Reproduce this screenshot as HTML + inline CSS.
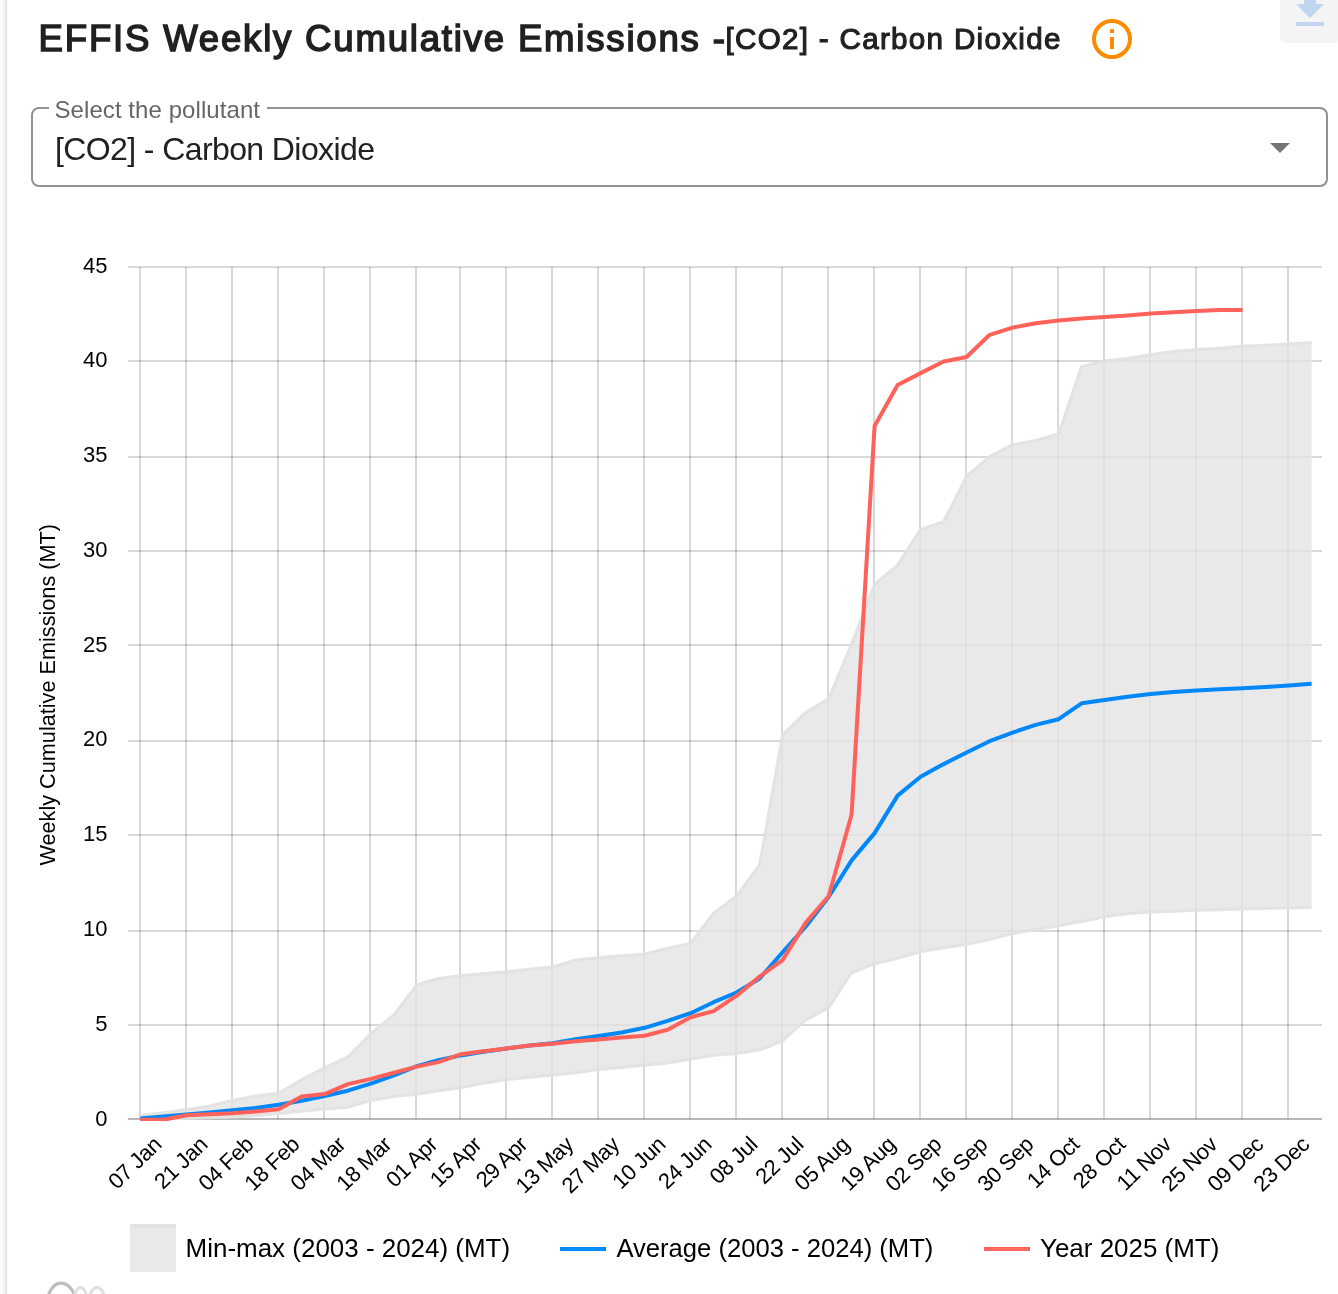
<!DOCTYPE html>
<html lang="en"><head><meta charset="utf-8"><title>EFFIS Weekly Cumulative Emissions</title>
<style>
html,body{margin:0;padding:0;background:#fff;}
body{width:1338px;height:1294px;position:relative;overflow:hidden;font-family:"Liberation Sans",sans-serif;color:#212121;}
.edge{position:absolute;left:0;top:0;width:7px;height:1294px;background:linear-gradient(to right,#fcfcfc 0.5px,#fbfbfb 1.5px,#f9f9f9 2.5px,#f6f6f6 3.5px,#f1f1f1 4.5px,#eaeaea 5.5px,#e2e2e2 6.5px);}
.title{position:absolute;left:38.6px;top:13.5px;margin:0;white-space:nowrap;font-size:36.6px;font-weight:400;line-height:50px;color:#212121;letter-spacing:1.79px;-webkit-text-stroke:1.5px #212121;}
.title .sub{font-size:29.6px;font-weight:400;letter-spacing:1.3px;margin-left:-1.1px;position:relative;top:-1.5px;-webkit-text-stroke:1.1px #212121;}
.info{position:absolute;left:1088px;top:15px;width:48px;height:48px;}
.dl{position:absolute;left:1280px;top:-20px;width:61px;height:63px;background:#f4f4f4;border-radius:6px;}
.dl svg{position:absolute;left:6px;top:6px;width:48px;height:48px;}
.field{position:absolute;left:31px;top:107px;width:1293px;height:76px;border:2px solid #919191;border-radius:8px;}
.field .lab{position:absolute;left:15.5px;top:-13.5px;padding:0 7px 0 6px;background:#fff;font-size:24px;line-height:28px;color:#666;white-space:nowrap;letter-spacing:0.07px;}
.field .val{position:absolute;left:22px;top:19.5px;font-size:32px;line-height:40px;color:#212121;white-space:nowrap;letter-spacing:-0.6px;}
.field svg{position:absolute;left:1223px;top:14px;width:48px;height:48px;}
.chart{position:absolute;left:0;top:0;font-family:"Liberation Sans",sans-serif;}
</style></head><body>
<div class="edge"></div>
<h2 class="title">EFFIS Weekly Cumulative Emissions -<span class="sub">[CO2] - Carbon Dioxide</span></h2>
<svg class="info" viewBox="0 0 24 24"><circle cx="12" cy="12" r="9" fill="none" stroke="#fb8c00" stroke-width="2"/><rect x="11" y="7" width="2" height="2" fill="#fb8c00"/><rect x="11" y="11" width="2" height="6" fill="#fb8c00"/></svg>
<div class="dl"><svg viewBox="0 0 24 24"><path d="M19 9h-4V3H9v6H5l7 7 7-7zM5 18v2h14v-2H5z" fill="#c1d5f1"/></svg></div>
<div class="field"><span class="lab">Select the pollutant</span><span class="val">[CO2] - Carbon Dioxide</span><svg viewBox="0 0 24 24"><path d="M7 10l5 5 5-5z" fill="#757575"/></svg></div>
<svg class="chart" width="1338" height="1294" viewBox="0 0 1338 1294">
<defs><clipPath id="ca"><rect x="140" y="265" width="1184" height="856"/></clipPath></defs>
<g stroke="#000" stroke-opacity="0.15" stroke-width="2" shape-rendering="crispEdges"><line x1="140" y1="267" x2="140" y2="1119"/><line x1="186" y1="267" x2="186" y2="1119"/><line x1="232" y1="267" x2="232" y2="1119"/><line x1="278" y1="267" x2="278" y2="1119"/><line x1="324" y1="267" x2="324" y2="1119"/><line x1="370" y1="267" x2="370" y2="1119"/><line x1="416" y1="267" x2="416" y2="1119"/><line x1="460" y1="267" x2="460" y2="1119"/><line x1="506" y1="267" x2="506" y2="1119"/><line x1="552" y1="267" x2="552" y2="1119"/><line x1="598" y1="267" x2="598" y2="1119"/><line x1="644" y1="267" x2="644" y2="1119"/><line x1="690" y1="267" x2="690" y2="1119"/><line x1="736" y1="267" x2="736" y2="1119"/><line x1="782" y1="267" x2="782" y2="1119"/><line x1="828" y1="267" x2="828" y2="1119"/><line x1="874" y1="267" x2="874" y2="1119"/><line x1="920" y1="267" x2="920" y2="1119"/><line x1="966" y1="267" x2="966" y2="1119"/><line x1="1012" y1="267" x2="1012" y2="1119"/><line x1="1058" y1="267" x2="1058" y2="1119"/><line x1="1104" y1="267" x2="1104" y2="1119"/><line x1="1150" y1="267" x2="1150" y2="1119"/><line x1="1196" y1="267" x2="1196" y2="1119"/><line x1="1242" y1="267" x2="1242" y2="1119"/><line x1="1288" y1="267" x2="1288" y2="1119"/><line x1="128" y1="267" x2="1322" y2="267"/><line x1="128" y1="361" x2="1322" y2="361"/><line x1="128" y1="457" x2="1322" y2="457"/><line x1="128" y1="551" x2="1322" y2="551"/><line x1="128" y1="645" x2="1322" y2="645"/><line x1="128" y1="741" x2="1322" y2="741"/><line x1="128" y1="835" x2="1322" y2="835"/><line x1="128" y1="931" x2="1322" y2="931"/><line x1="128" y1="1025" x2="1322" y2="1025"/></g><line x1="128" y1="1119" x2="1322" y2="1119" stroke="#000" stroke-opacity="0.28" stroke-width="2" shape-rendering="crispEdges"/>
<g clip-path="url(#ca)">
<polygon points="140.3,1115.3 163.4,1112.7 186.4,1109.8 209.5,1105.9 232.5,1100.4 255.6,1096.0 278.6,1093.2 301.6,1079.7 324.7,1067.6 347.8,1056.8 370.8,1033.6 393.9,1014.9 416.9,984.7 438.2,978.5 460.6,975.8 483.6,973.6 506.6,971.7 529.6,969.2 552.6,966.9 575.6,960.1 598.6,957.6 621.6,955.7 644.6,954.0 667.6,948.3 690.6,943.4 713.6,913.1 736.6,896.0 759.6,864.8 782.6,734.9 805.6,712.2 828.6,698.9 851.6,643.9 874.6,584.2 897.6,565.1 920.6,529.3 943.6,521.7 966.6,476.2 989.6,456.7 1012.6,444.7 1035.6,440.5 1058.6,433.9 1081.6,366.4 1104.6,360.9 1127.6,358.3 1150.6,354.7 1173.6,351.5 1196.6,349.6 1219.6,348.2 1242.6,346.3 1265.6,345.2 1288.6,343.9 1311.6,342.5 1311.6,907.4 1288.6,908.0 1265.6,908.4 1242.6,908.9 1219.6,909.7 1196.6,910.2 1173.6,911.2 1150.6,912.1 1127.6,913.8 1104.6,916.7 1081.6,921.6 1058.6,925.8 1035.6,929.4 1012.6,933.6 989.6,939.6 966.6,944.2 943.6,948.0 920.6,951.6 897.6,958.2 874.6,963.9 851.6,972.8 828.6,1007.9 805.6,1020.0 782.6,1041.0 759.6,1050.1 736.6,1053.4 713.6,1055.3 690.6,1059.0 667.6,1063.0 644.6,1065.3 621.6,1067.6 598.6,1069.5 575.6,1072.7 552.6,1075.0 529.6,1077.2 506.6,1079.7 483.6,1083.3 460.6,1087.7 438.2,1090.7 416.9,1094.3 393.9,1096.6 370.8,1100.4 347.8,1107.4 324.7,1108.9 301.6,1111.2 278.6,1113.6 255.6,1115.5 232.5,1116.9 209.5,1117.8 186.4,1118.6 163.4,1119.1 140.3,1119.7" fill="rgb(227,227,227)" fill-opacity="0.79"/>
<polyline points="140.3,1115.3 163.4,1112.7 186.4,1109.8 209.5,1105.9 232.5,1100.4 255.6,1096.0 278.6,1093.2 301.6,1079.7 324.7,1067.6 347.8,1056.8 370.8,1033.6 393.9,1014.9 416.9,984.7 438.2,978.5 460.6,975.8 483.6,973.6 506.6,971.7 529.6,969.2 552.6,966.9 575.6,960.1 598.6,957.6 621.6,955.7 644.6,954.0 667.6,948.3 690.6,943.4 713.6,913.1 736.6,896.0 759.6,864.8 782.6,734.9 805.6,712.2 828.6,698.9 851.6,643.9 874.6,584.2 897.6,565.1 920.6,529.3 943.6,521.7 966.6,476.2 989.6,456.7 1012.6,444.7 1035.6,440.5 1058.6,433.9 1081.6,366.4 1104.6,360.9 1127.6,358.3 1150.6,354.7 1173.6,351.5 1196.6,349.6 1219.6,348.2 1242.6,346.3 1265.6,345.2 1288.6,343.9 1311.6,342.5" fill="none" stroke="rgb(225,225,225)" stroke-opacity="0.9" stroke-width="3" stroke-linejoin="round"/>
<polyline points="140.3,1119.7 163.4,1119.1 186.4,1118.6 209.5,1117.8 232.5,1116.9 255.6,1115.5 278.6,1113.6 301.6,1111.2 324.7,1108.9 347.8,1107.4 370.8,1100.4 393.9,1096.6 416.9,1094.3 438.2,1090.7 460.6,1087.7 483.6,1083.3 506.6,1079.7 529.6,1077.2 552.6,1075.0 575.6,1072.7 598.6,1069.5 621.6,1067.6 644.6,1065.3 667.6,1063.0 690.6,1059.0 713.6,1055.3 736.6,1053.4 759.6,1050.1 782.6,1041.0 805.6,1020.0 828.6,1007.9 851.6,972.8 874.6,963.9 897.6,958.2 920.6,951.6 943.6,948.0 966.6,944.2 989.6,939.6 1012.6,933.6 1035.6,929.4 1058.6,925.8 1081.6,921.6 1104.6,916.7 1127.6,913.8 1150.6,912.1 1173.6,911.2 1196.6,910.2 1219.6,909.7 1242.6,908.9 1265.6,908.4 1288.6,908.0 1311.6,907.4" fill="none" stroke="rgb(225,225,225)" stroke-opacity="0.9" stroke-width="3" stroke-linejoin="round"/>
<polyline points="140.3,1118.4 163.4,1116.5 186.4,1114.4 209.5,1112.5 232.5,1110.2 255.6,1107.9 278.6,1104.7 301.6,1100.7 324.7,1096.0 347.8,1090.7 370.8,1083.7 393.9,1075.3 416.9,1066.1 438.2,1060.2 460.6,1055.4 483.6,1051.8 506.6,1048.4 529.6,1045.6 552.6,1043.3 575.6,1039.3 598.6,1035.9 621.6,1032.5 644.6,1027.8 667.6,1020.8 690.6,1013.2 713.6,1002.2 736.6,992.5 759.6,978.5 782.6,952.3 805.6,926.7 828.6,897.0 851.6,860.4 874.6,833.1 897.6,795.6 920.6,776.8 943.6,764.1 966.6,752.5 989.6,741.2 1012.6,732.6 1035.6,724.9 1058.6,719.2 1081.6,703.3 1104.6,700.0 1127.6,696.8 1150.6,694.0 1173.6,691.9 1196.6,690.4 1219.6,689.2 1242.6,688.3 1265.6,687.1 1288.6,685.4 1311.6,683.7" fill="none" stroke="#0087f8" stroke-width="4" stroke-linejoin="round" stroke-linecap="butt"/>
<polyline points="140.3,1119.7 163.4,1119.7 186.4,1115.3 209.5,1114.2 232.5,1113.3 255.6,1111.5 278.6,1109.3 301.6,1096.6 324.7,1094.1 347.8,1084.1 370.8,1078.9 393.9,1072.7 416.9,1066.6 438.2,1062.1 460.6,1054.3 483.6,1051.3 506.6,1048.4 529.6,1045.6 552.6,1043.7 575.6,1041.2 598.6,1039.5 621.6,1037.6 644.6,1035.7 667.6,1029.7 690.6,1017.3 713.6,1011.1 736.6,995.7 759.6,976.6 782.6,960.1 805.6,922.9 828.6,896.2 851.6,814.5 874.6,425.9 897.6,385.0 920.6,373.1 943.6,361.5 966.6,357.0 989.6,334.8 1012.6,327.6 1035.6,323.2 1058.6,320.4 1081.6,318.5 1104.6,317.1 1127.6,315.4 1150.6,313.4 1173.6,312.2 1196.6,311.1 1219.6,310.1 1242.6,310.1" fill="none" stroke="#ff625a" stroke-width="4" stroke-linejoin="round" stroke-linecap="butt"/>
</g>
<g font-size="22" fill="#000" text-anchor="end">
<text x="107.5" y="273">45</text>
<text x="107.5" y="367">40</text>
<text x="107.5" y="462">35</text>
<text x="107.5" y="557">30</text>
<text x="107.5" y="652">25</text>
<text x="107.5" y="746">20</text>
<text x="107.5" y="841">15</text>
<text x="107.5" y="936">10</text>
<text x="107.5" y="1031">5</text>
<text x="107.5" y="1126">0</text>
</g>
<text font-size="22.6" fill="#000" text-anchor="middle" transform="translate(54.8 694.8) rotate(-90)" textLength="341.6" lengthAdjust="spacingAndGlyphs">Weekly Cumulative Emissions (MT)</text>
<g font-size="22" fill="#000" text-anchor="end" letter-spacing="-0.4">
<text transform="translate(153 1136) rotate(-44)" x="0" y="14">07 Jan</text>
<text transform="translate(199 1136) rotate(-44)" x="0" y="14">21 Jan</text>
<text transform="translate(245 1136) rotate(-44)" x="0" y="14">04 Feb</text>
<text transform="translate(291 1136) rotate(-44)" x="0" y="14">18 Feb</text>
<text transform="translate(337 1136) rotate(-44)" x="0" y="14">04 Mar</text>
<text transform="translate(383 1136) rotate(-44)" x="0" y="14">18 Mar</text>
<text transform="translate(429 1136) rotate(-44)" x="0" y="14">01 Apr</text>
<text transform="translate(473 1136) rotate(-44)" x="0" y="14">15 Apr</text>
<text transform="translate(519 1136) rotate(-44)" x="0" y="14">29 Apr</text>
<text transform="translate(565 1136) rotate(-44)" x="0" y="14">13 May</text>
<text transform="translate(611 1136) rotate(-44)" x="0" y="14">27 May</text>
<text transform="translate(657 1136) rotate(-44)" x="0" y="14">10 Jun</text>
<text transform="translate(703 1136) rotate(-44)" x="0" y="14">24 Jun</text>
<text transform="translate(749 1136) rotate(-44)" x="0" y="14">08 Jul</text>
<text transform="translate(795 1136) rotate(-44)" x="0" y="14">22 Jul</text>
<text transform="translate(841 1136) rotate(-44)" x="0" y="14">05 Aug</text>
<text transform="translate(887 1136) rotate(-44)" x="0" y="14">19 Aug</text>
<text transform="translate(933 1136) rotate(-44)" x="0" y="14">02 Sep</text>
<text transform="translate(979 1136) rotate(-44)" x="0" y="14">16 Sep</text>
<text transform="translate(1025 1136) rotate(-44)" x="0" y="14">30 Sep</text>
<text transform="translate(1071 1136) rotate(-44)" x="0" y="14">14 Oct</text>
<text transform="translate(1117 1136) rotate(-44)" x="0" y="14">28 Oct</text>
<text transform="translate(1163 1136) rotate(-44)" x="0" y="14">11 Nov</text>
<text transform="translate(1209 1136) rotate(-44)" x="0" y="14">25 Nov</text>
<text transform="translate(1255 1136) rotate(-44)" x="0" y="14">09 Dec</text>
<text transform="translate(1301 1136) rotate(-44)" x="0" y="14">23 Dec</text>
</g>
<rect x="130" y="1224" width="46" height="48" fill="#e9e9e9"/><rect x="130" y="1224" width="46" height="4" fill="#e3e3e3"/>
<rect x="560" y="1247" width="46" height="4" fill="#0085f7"/><rect x="562" y="1248" width="42" height="2" fill="#048ef9"/>
<rect x="984" y="1247" width="46" height="4" fill="#ff5f55"/><rect x="986" y="1248" width="42" height="2" fill="#ff6b62"/>
<g font-size="26" fill="#000">
<text x="185.6" y="1256.5" textLength="324.5" lengthAdjust="spacingAndGlyphs">Min-max (2003 - 2024) (MT)</text>
<text x="616.4" y="1256.5" textLength="317" lengthAdjust="spacingAndGlyphs">Average (2003 - 2024) (MT)</text>
<text x="1040" y="1256.5" textLength="179.3" lengthAdjust="spacingAndGlyphs">Year 2025 (MT)</text>
</g>
<g fill="none" stroke-linecap="round" transform="translate(0 1.3)"><path d="M48 1296 C52 1277,70 1277,75 1296" stroke="#bdbdbd" stroke-width="3.2"/><path d="M74 1296 C77 1283,84 1283,87 1296" stroke="#dedede" stroke-width="3"/><path d="M89 1296 C93 1283,101 1283,105 1296" stroke="#dedede" stroke-width="3"/></g>
</svg>
</body></html>
